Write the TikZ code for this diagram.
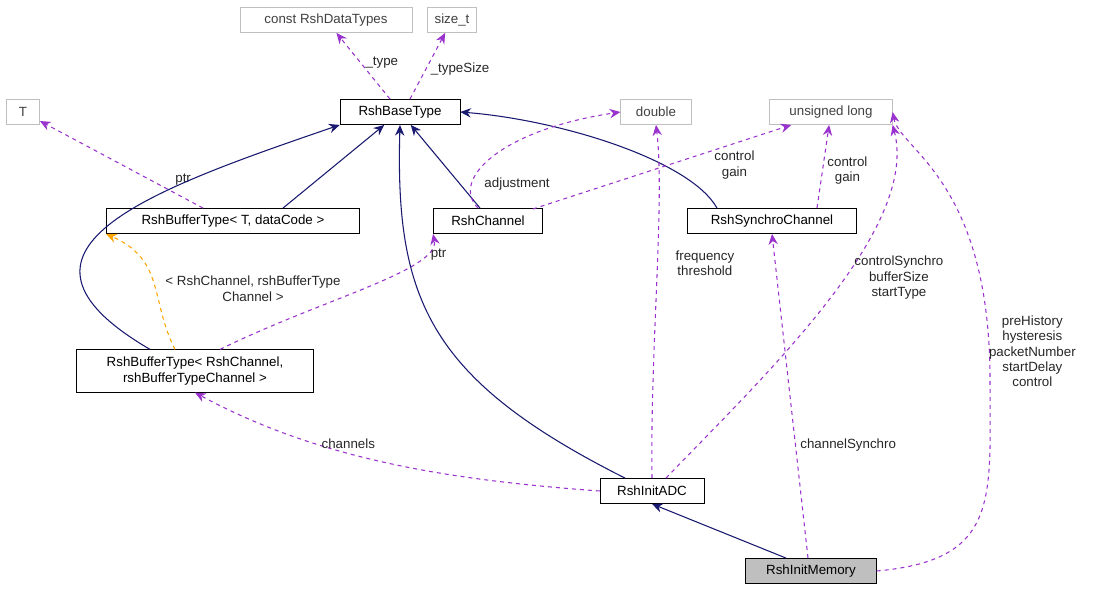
\documentclass[tikz,border=0pt]{standalone}
\usepackage{fontspec}
\setmainfont{Liberation Sans}
\usetikzlibrary{arrows.meta}
\definecolor{navy}{HTML}{191970}
\definecolor{dpurple}{HTML}{9A32CD}
\definecolor{dorange}{HTML}{FFA500}
\definecolor{lgray}{HTML}{BFBFBF}
\tikzset{cls/.append style={draw=black,minimum height=19pt,inner sep=2pt,font=\fontsize{10}{11.5}\selectfont,align=center}}
\tikzset{ext/.append style={cls,draw=lgray,text=black!75}}
\tikzset{inh/.append style={navy,-{Stealth[length=8pt,width=7pt]},thick}}
\tikzset{use/.append style={dpurple,dashed,-{Stealth[length=8pt,width=7pt]},thick}}
\tikzset{tpl/.append style={dorange,dashed,-{Stealth[length=8pt,width=7pt]},thick}}
\tikzset{lbl/.append style={font=\fontsize{10}{11.5}\selectfont,align=center,text=black!85}}
\begin{document}
\begin{tikzpicture}[x=0.75pt,y=-0.75pt]
                \useasboundingbox (0,0) rectangle (1105,592);
                % classes
                \node[ext,minimum width=129pt] (dt) at (326,20) {const RshDataTypes};
                \node[ext,minimum width=37pt] (st) at (452,20) {size\_t};
                \node[ext,minimum width=25pt] (t) at (23,112) {T};
                \node[cls,minimum width=90pt] (bt) at (400,112) {RshBaseType};
                \node[ext,minimum width=53pt] (db) at (656,112) {double};
                \node[ext,minimum width=92pt] (ul) at (831,112) {unsigned long};
                \node[cls,minimum width=190pt] (bft) at (233,221) {RshBufferType\textless{} T, dataCode \textgreater};
                \node[cls,minimum width=82pt] (ch) at (488,221) {RshChannel};
                \node[cls,minimum width=127pt] (sc) at (772,221) {RshSynchroChannel};
                \node[cls,minimum width=178pt,minimum height=32pt] (bfc) at (195,371) {RshBufferType\textless{} RshChannel,\\rshBufferTypeChannel \textgreater};
                \node[cls,minimum width=78pt] (adc) at (652,491) {RshInitADC};
                \node[cls,fill=lgray,minimum width=98pt] (mem) at (811,571) {RshInitMemory};
                % members
                \draw[use] (bt.north) ++(-10,0) coordinate (b1) (b1) -- node[lbl,right,pos=0.55]{\_type} (dt);
                \draw[use] (bt.north) ++(10,0) coordinate (b2) (b2) -- node[lbl,right,pos=0.45]{\_typeSize} (st);
                \draw[use] (bft.north) ++(-30,0) coordinate (f1) (f1) -- node[lbl,pos=0.2,above right]{ptr} (t);
                \draw[inh] (bft.north) ++(50,0) coordinate (f2) (f2) -- (bt);
                \draw[inh] (ch.north) ++(-8,0) coordinate (c1) (c1) -- (bt);
                \draw[inh] (sc.north) ++(-55,0) coordinate (s1) (s1) .. controls (690,160) and (560,120) .. (bt.east);
                \draw[use] (ch.north) ++(-10,0) coordinate (c2) (c2) .. controls (450,180) and (500,130) .. node[lbl,pos=0.25,right=6pt]{adjustment} (db.west);
                \draw[use] (ch.east) ++(-10,-12) coordinate (c3) (c3) -- node[lbl,pos=0.78,below=2pt]{control\\gain} (ul);
                \draw[use] (sc.north) ++(45,0) coordinate (s2) (s2) -- node[lbl,pos=0.45,right]{control\\gain} (ul);
                \draw[tpl] (bfc.north) ++(-20,0) coordinate (g1) (g1) .. controls (150,300) and (165,260) .. node[lbl,pos=0.45,right=4pt]{\textless{} RshChannel, rshBufferType\\Channel \textgreater} (bft.south west);
                \draw[inh] (bfc.north) ++(-45,0) coordinate (g2) (g2) .. controls (-20,250) and (150,190) .. (bt.south west);
                \draw[use] (bfc.north) ++(25,0) coordinate (g3) (g3) .. controls (320,300) and (440,270) .. node[lbl,pos=0.8,right=2pt]{ptr} (ch.south west);
                \draw[inh] (adc.north) ++(-27,0) coordinate (a1) (a1) .. controls (430,380) and (395,300) .. (bt.south);
                \draw[use] (adc.north) .. controls (650,350) and (665,200) .. node[lbl,pos=0.55,right=10pt]{frequency\\threshold} (db.south);
                \draw[use] (adc.north) ++(14,0) coordinate (a3) (a3) .. controls (760,380) and (920,230) .. node[lbl,pos=0.57,right=4pt]{controlSynchro\\bufferSize\\startType} (ul.south east);
                \draw[use] (adc.west) .. controls (450,480) and (320,460) .. node[lbl,pos=0.6,above]{channels} (bfc.south);
                \draw[inh] (mem.north) ++(-25,0) coordinate (m1) (m1) -- (adc.south);
                \draw[use] (mem.north) ++(-3,0) coordinate (m2) (m2) -- node[lbl,pos=0.35,right]{channelSynchro} (sc.south);
                \draw[use] (mem.east) .. controls (1000,560) and (990,500) .. (990,380) .. controls (990,180) and (900,150) .. node[lbl,pos=0.05,right=-4pt]{preHistory\\hysteresis\\packetNumber\\startDelay\\control} (ul.east);
            \end{tikzpicture}
\end{document}
